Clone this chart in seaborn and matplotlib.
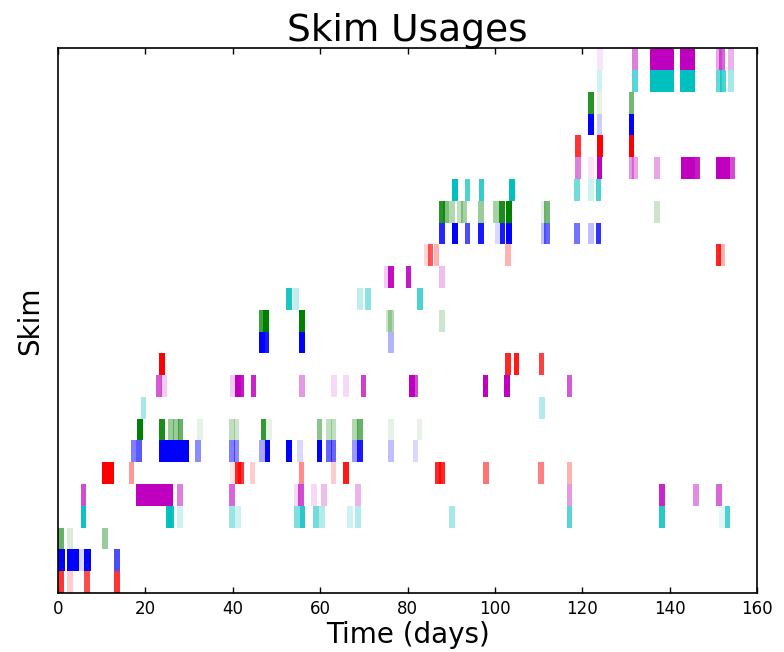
import matplotlib
matplotlib.use("Agg")
import matplotlib.pyplot as plt
import seaborn as sns
import pandas as pd

# ---- data: (start day, opacity) of each usage, one list per skim (bottom to top)
skim_00 = [(0, 0.8), (2.1, 0.2), (6.0, 0.7), (12.9, 0.8)]
skim_01 = [(0, 1.0), (0.3, 1.0), (2.1, 1.0), (3.1, 1.0), (3.6, 1.0), (4.9, 0.15),
           (5.9, 1.0), (6.2, 1.0), (12.9, 0.7)]
skim_02 = [(0, 0.6), (2.1, 0.15), (10.1, 0.4)]
skim_03 = [(5.2, 0.95), (24.8, 0.95), (25.2, 0.95), (27.2, 0.2), (39.1, 0.4), (40.5, 0.2),
           (54.0, 0.5), (55.3, 0.85), (58.4, 0.55), (59.8, 0.3), (66.2, 0.2), (68.0, 0.3),
           (89.5, 0.35), (116.4, 0.65), (137.6, 0.85), (151.3, 0.1), (152.6, 0.7)]
skim_04 = [(5.2, 0.7), (17.8, 1.0), (18.8, 1.0), (19.8, 1.0), (20.8, 1.0), (21.8, 1.0),
           (22.8, 1.0), (23.8, 1.0), (24.8, 1.0), (25.1, 1.0), (27.2, 0.5), (39.1, 0.6),
           (54.0, 0.15), (55.0, 0.7), (57.9, 0.15), (60.3, 0.25), (68.0, 0.3),
           (116.4, 0.4), (137.6, 0.85), (145.4, 0.45), (150.6, 0.6)]
skim_05 = [(10.1, 1.0), (11.4, 1.0), (16.2, 0.4), (39.4, 0.1), (40.5, 0.85), (41.3, 0.8),
           (43.9, 0.2), (55.1, 0.45), (62.4, 0.2), (65.2, 0.9), (86.4, 0.85), (87.3, 0.85),
           (97.3, 0.55), (109.9, 0.5), (116.4, 0.3)]
skim_06 = [(16.6, 0.5), (17.9, 0.65), (23.2, 1.0), (24.2, 1.0), (25.2, 1.0), (26.2, 1.0),
           (27.2, 1.0), (28.2, 1.0), (28.7, 1.0), (31.4, 0.45), (39.1, 0.5), (40.2, 0.45),
           (46.1, 0.35), (47.3, 1.0), (52.2, 1.0), (54.8, 0.15), (59.2, 1.0),
           (61.3, 0.6), (62.4, 0.6), (67.3, 0.4), (68.4, 0.9), (75.5, 0.25), (81.2, 0.15)]
skim_07 = [(18.1, 1.0), (23.2, 0.9), (25.2, 0.4), (26.4, 0.4), (27.4, 0.6), (31.9, 0.1),
           (39.1, 0.25), (40.2, 0.2), (46.4, 0.8), (47.6, 0.1), (59.2, 0.45),
           (61.3, 0.25), (62.4, 0.25), (67.3, 0.3), (68.4, 0.6), (75.5, 0.1), (82.1, 0.1)]
skim_08 = [(18.9, 0.35), (110.1, 0.3)]
skim_09 = [(22.5, 0.65), (23.6, 0.2), (39.4, 0.2), (40.5, 1.0), (41.2, 0.9), (44.1, 0.85),
           (55.2, 0.4), (62.5, 0.15), (65.3, 0.15), (69.3, 0.75), (80.3, 1.0), (81.2, 0.7),
           (97.2, 1.0), (102.1, 1.0), (116.4, 0.65)]
skim_10 = [(23.2, 1.0), (102.3, 0.85), (104.3, 0.9), (110.0, 0.75)]
skim_11 = [(46.0, 1.0), (47.0, 0.9), (55.2, 1.0), (75.6, 0.3)]
skim_12 = [(46.0, 0.75), (47.0, 1.0), (55.2, 1.0), (75.1, 0.2), (75.6, 0.3), (87.3, 0.2)]
skim_13 = [(52.2, 0.9), (53.9, 0.25), (68.4, 0.25), (70.3, 0.45), (82.2, 0.7)]
skim_14 = [(74.6, 0.2), (75.6, 0.95), (79.6, 0.9), (87.3, 0.25)]
skim_15 = [(83.8, 0.15), (84.6, 0.65), (86.0, 0.3), (102.4, 0.3), (150.5, 0.85), (151.3, 0.3)]
skim_16 = [(87.3, 0.85), (90.2, 1.0), (93.1, 0.7), (96.2, 0.9), (100.0, 0.15), (101.1, 0.9),
           (102.5, 1.0), (110.5, 0.25), (111.3, 0.6), (118.2, 0.55), (121.4, 0.25), (123.1, 0.8)]
skim_17 = [(87.2, 0.85), (88.2, 0.5), (89.5, 0.3), (91.3, 0.25), (92.2, 0.35), (96.2, 0.4),
           (99.6, 0.35), (100.9, 0.9), (102.5, 1.0), (110.5, 0.1), (111.3, 0.55), (136.4, 0.2)]
skim_18 = [(90.2, 1.0), (93.1, 0.7), (96.3, 0.8), (103.3, 1.0), (118.2, 0.55),
           (121.4, 0.2), (123.1, 0.7)]
skim_19 = [(118.3, 0.5), (121.4, 0.1), (123.3, 1.0), (130.6, 0.4), (131.4, 0.35), (136.4, 0.35),
           (142.5, 1.0), (143.5, 1.0), (144.5, 1.0), (145.6, 0.9), (150.5, 1.0), (151.5, 1.0),
           (152.5, 1.0), (153.6, 0.7)]
skim_20 = [(118.4, 0.8), (123.4, 1.0), (130.6, 1.0)]
skim_21 = [(121.4, 1.0), (123.3, 0.2), (130.6, 1.0)]
skim_22 = [(121.4, 0.85), (123.3, 0.1), (130.6, 0.55)]
skim_23 = [(123.3, 0.2), (131.4, 0.65), (135.5, 1.0), (136.5, 1.0), (137.5, 1.0), (138.5, 1.0),
           (139.7, 1.0), (142.3, 1.0), (143.3, 1.0), (144.6, 1.0), (150.6, 0.6), (151.5, 0.7),
           (153.4, 0.35)]
skim_24 = [(123.4, 0.1), (131.4, 0.5), (135.5, 1.0), (136.5, 1.0), (137.5, 1.0), (138.5, 1.0),
           (139.7, 1.0), (142.3, 1.0), (143.3, 1.0), (144.6, 1.0), (150.6, 0.35), (151.3, 0.6),
           (153.4, 0.3)]

skims = [skim_00, skim_01, skim_02, skim_03, skim_04, skim_05, skim_06, skim_07, skim_08,
         skim_09, skim_10, skim_11, skim_12, skim_13, skim_14, skim_15, skim_16, skim_17,
         skim_18, skim_19, skim_20, skim_21, skim_22, skim_23, skim_24]
# classic matplotlib r, b, g, c, m
row_colors = [(1.0, 0.0, 0.0), (0.0, 0.0, 1.0), (0.0, 0.5, 0.0),
              (0.0, 0.75, 0.75), (0.75, 0.0, 0.75)]
x_ticks = [0, 20, 40, 60, 80, 100, 120, 140, 160]

records = []
for k, usages in enumerate(skims):
    for day, a in usages:
        records.append({"skim": k, "day": day, "alpha": a})
df = pd.DataFrame(records)

# ---- style
sns.set_theme(style="white", rc={
    "axes.edgecolor": "black",
    "axes.linewidth": 1.2,
    "xtick.direction": "in",
    "xtick.major.size": 4,
    "xtick.major.width": 1.0,
    "xtick.color": "black",
    "xtick.major.pad": 5,
    "text.color": "black",
    "axes.labelcolor": "black",
})
plt.rcParams["font.family"] = ["DejaVu Sans"]

fig, ax = plt.subplots(figsize=(7.84, 6.52), dpi=100)
fig.subplots_adjust(left=0.074, right=0.9656, bottom=0.0905, top=0.926)

BAR_W = 1.3
for _, r in df.iterrows():
    ax.barh(r["skim"], BAR_W, left=r["day"], height=1.0, align="edge",
            color=row_colors[int(r["skim"]) % 5], alpha=r["alpha"], linewidth=0)

ax.set_xlim(0, 160)
ax.set_ylim(0, len(skims))
ax.set_xticks(x_ticks)
ax.set_xticklabels([str(t) for t in x_ticks], fontsize=12)
ax.set_yticks([])
ax.tick_params(axis="x", top=True, bottom=True, labeltop=False)
for s in ax.spines.values():
    s.set_visible(True)
    s.set_color("black")

ax.set_title("Skim Usages", fontsize=27, pad=5)
ax.set_xlabel("Time (days)", fontsize=20, labelpad=2)
ax.set_ylabel("Skim", fontsize=20, labelpad=10)

fig.savefig("out.png", dpi=100)
